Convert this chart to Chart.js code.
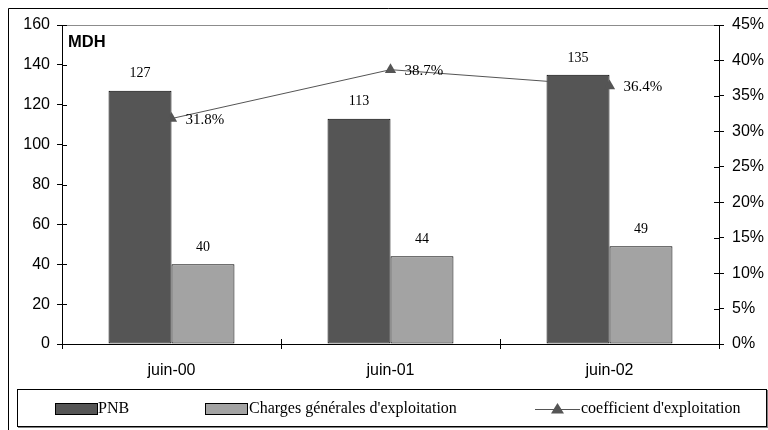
<!DOCTYPE html>
<html>
<head>
<meta charset="utf-8">
<script src="https://cdn.jsdelivr.net/npm/chart.js@4"></script>
<style>
html,body{margin:0;padding:0;background:#fff;}
canvas{display:block;}
</style>
</head>
<body>
<canvas id="c" width="768" height="430"></canvas>
<script>
const categories = ["juin-00", "juin-01", "juin-02"];
const pnb = [127, 113, 135];
const charges = [40, 44, 49];
const coefficient = [0.318, 0.387, 0.364];
const coefLabels = ["31.8%", "38.7%", "36.4%"];
const leftTicks = [0, 20, 40, 60, 80, 100, 120, 140, 160];
const rightTicks = ["0%", "5%", "10%", "15%", "20%", "25%", "30%", "35%", "40%", "45%"];

const SANS = '"Liberation Sans", Arial, sans-serif';
const SERIF = '"Liberation Serif", "Times New Roman", serif';

const framePlugin = {
  id: 'frame',
  beforeDraw(chart) {
    const ctx = chart.ctx;
    ctx.save();
    ctx.fillStyle = '#fff';
    ctx.fillRect(0, 0, chart.width, chart.height);
    ctx.restore();
  },
  afterDraw(chart) {
    const ctx = chart.ctx;
    const ca = chart.chartArea;
    ctx.save();
    // outer frame
    ctx.strokeStyle = '#000';
    ctx.lineWidth = 1;
    ctx.beginPath();
    ctx.moveTo(8.5, 430);
    ctx.lineTo(8.5, 8.5);
    ctx.lineTo(768, 8.5);
    ctx.stroke();

    // inner tick marks (crossing)
    const y = chart.scales.y, y2 = chart.scales.y2, x = chart.scales.x;
    ctx.beginPath();
    y.ticks.forEach(t => {
      const p = Math.round(y.getPixelForValue(t.value)) + 0.5;
      ctx.moveTo(ca.left, p); ctx.lineTo(ca.left + 5, p);
    });
    y2.ticks.forEach(t => {
      const p = Math.round(y2.getPixelForValue(t.value)) + 0.5;
      ctx.moveTo(ca.right - 5, p); ctx.lineTo(ca.right, p);
    });
    for (let i = 0; i <= categories.length; i++) {
      const p = Math.round(x.getPixelForValue(i - 0.5)) + 0.5;
      ctx.moveTo(p, ca.bottom - 5); ctx.lineTo(p, ca.bottom);
    }
    ctx.stroke();

    // MDH unit label
    ctx.fillStyle = '#000';
    ctx.font = 'bold 16.5px ' + SANS;
    ctx.textAlign = 'left';
    ctx.textBaseline = 'middle';
    ctx.fillText('MDH', ca.left + 6, ca.top + 17);

    // data labels
    ctx.font = '14px ' + SERIF;
    [0, 1].forEach(di => {
      const meta = chart.getDatasetMeta(di);
      meta.data.forEach((el, i) => {
        ctx.textAlign = 'center';
        ctx.fillText(String(chart.data.datasets[di].data[i]), el.x, el.y - 17);
      });
    });
    ctx.font = '15px ' + SERIF;
    const lm = chart.getDatasetMeta(2);
    lm.data.forEach((el, i) => {
      ctx.textAlign = 'left';
      ctx.fillText(coefLabels[i], el.x + 14, el.y + 1);
    });

    // legend
    const lx0 = 17, ly0 = 389, lx1 = 766, ly1 = 426;
    ctx.strokeStyle = '#808080';
    ctx.lineWidth = 2;
    ctx.beginPath();
    ctx.moveTo(lx0 + 1, ly1 + 1); ctx.lineTo(lx1 + 1, ly1 + 1); ctx.lineTo(lx1 + 1, ly0 + 1);
    ctx.stroke();
    ctx.strokeStyle = '#000';
    ctx.lineWidth = 1;
    ctx.strokeRect(lx0 + 0.5, ly0 + 0.5, lx1 - lx0, ly1 - ly0);

    const ds = chart.data.datasets;
    const cy = 409;
    ctx.font = '16px ' + SERIF;
    ctx.textAlign = 'left';
    ctx.textBaseline = 'middle';
    // PNB
    ctx.fillStyle = ds[0].backgroundColor;
    ctx.fillRect(55, 403, 42, 11);
    ctx.strokeRect(55.5, 403.5, 42, 11);
    ctx.fillStyle = '#000';
    ctx.fillText(ds[0].label, 98, cy);
    // Charges
    ctx.fillStyle = ds[1].backgroundColor;
    ctx.fillRect(205, 403, 42, 11);
    ctx.strokeRect(205.5, 403.5, 42, 11);
    ctx.fillStyle = '#000';
    ctx.fillText(ds[1].label, 249, cy);
    // coefficient
    ctx.strokeStyle = ds[2].borderColor;
    ctx.beginPath();
    ctx.moveTo(535, cy + 0.5); ctx.lineTo(580, cy + 0.5);
    ctx.stroke();
    ctx.fillStyle = ds[2].pointBackgroundColor;
    ctx.beginPath();
    ctx.moveTo(557.5, cy - 6); ctx.lineTo(564, cy + 4.5); ctx.lineTo(551, cy + 4.5); ctx.closePath();
    ctx.fill();
    ctx.fillStyle = '#000';
    ctx.fillText(ds[2].label, 581, cy);
    ctx.restore();
  }
};

new Chart(document.getElementById('c'), {
  data: {
    labels: categories,
    datasets: [
      {
        type: 'bar', label: 'PNB', data: pnb, yAxisID: 'y',
        backgroundColor: '#555555', borderColor: '#000', borderWidth: 1, borderSkipped: false,
        categoryPercentage: 0.575, barPercentage: 1.0, order: 2
      },
      {
        type: 'bar', label: "Charges générales d'exploitation", data: charges, yAxisID: 'y',
        backgroundColor: '#a3a3a3', borderColor: '#000', borderWidth: 1, borderSkipped: false,
        categoryPercentage: 0.575, barPercentage: 1.0, order: 2
      },
      {
        type: 'line', label: "coefficient d'exploitation", data: coefficient, yAxisID: 'y2',
        borderColor: '#555555', borderWidth: 1, pointStyle: 'triangle', pointRadius: 6.5,
        pointBackgroundColor: '#555555', pointBorderColor: '#555555', pointBorderWidth: 0,
        tension: 0, fill: false, order: 0
      }
    ]
  },
  options: {
    responsive: false,
    animation: false,
    events: [],
    layout: { padding: { top: 25, left: 0, right: 0, bottom: 0 } },
    plugins: { legend: { display: false }, tooltip: { enabled: false } },
    scales: {
      x: {
        type: 'category',
        offset: true,
        grid: { offset: true, drawOnChartArea: false, tickLength: 5, color: '#000', tickColor: '#000' },
        border: { color: '#000', width: 1 },
        ticks: { color: '#000', font: { family: SANS, size: 16 }, padding: 12, maxRotation: 0 },
        afterFit(s) { s.height = 86; }
      },
      y: {
        position: 'left', min: 0, max: 160,
        afterBuildTicks(s) { s.ticks = leftTicks.map(v => ({ value: v })); },
        grid: {
          drawOnChartArea: true, tickLength: 5, tickColor: '#000',
          color: c => (c.tick && c.tick.value === 160) ? '#8c8c8c' : 'rgba(0,0,0,0)'
        },
        border: { color: '#000', width: 1 },
        ticks: { color: '#000', font: { family: SANS, size: 16 }, padding: 7 },
        afterFit(s) { s.width = 62; }
      },
      y2: {
        position: 'right', min: 0, max: 0.45,
        afterBuildTicks(s) { s.ticks = rightTicks.map((t, i) => ({ value: i * 0.05 })); },
        grid: { drawOnChartArea: false, tickLength: 5, color: '#000', tickColor: '#000' },
        border: { color: '#000', width: 1 },
        ticks: {
          color: '#000', font: { family: SANS, size: 16 }, padding: 8,
          callback: (v, i) => rightTicks[i]
        },
        afterFit(s) { s.width = 49; }
      }
    }
  },
  plugins: [framePlugin]
});
</script>
</body>
</html>
